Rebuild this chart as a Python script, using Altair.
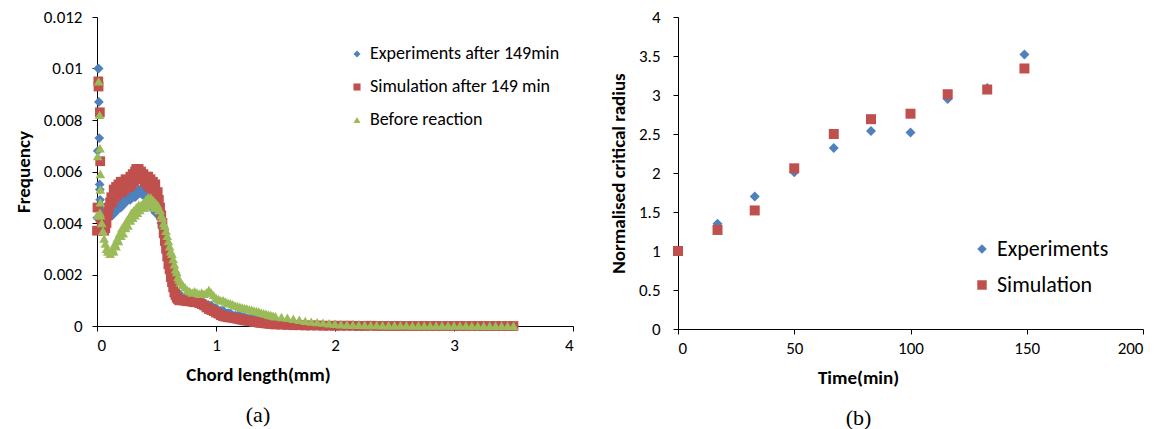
import altair as alt
import pandas as pd

FONT = "Carlito, Lato, sans-serif"
SERIF = "Liberation Serif, Times New Roman, serif"

# ---------------- panel (a): chord length distribution ----------------
series_a = ["Experiments after 149min", "Simulation after 149 min", "Before reaction"]
colors_a = ["#4F81BD", "#C0504D", "#9BBB59"]
shapes_a = ["diamond", "square", "triangle-up"]

# first few (smallest) chord-length bins
exp_spike_x = [0.002, 0.006, 0.010, 0.014, 0.016, 0.019, 0.022, 0.024, 0.026]
exp_spike_y = [0.0042, 0.0068, 0.0100, 0.0100, 0.0087, 0.0073, 0.0055, 0.0053, 0.0049]
sim_spike_x = [0.0, 0.004, 0.011, 0.013, 0.024, 0.027]
sim_spike_y = [0.0037, 0.0046, 0.0095, 0.0093, 0.0083, 0.0064]
bef_spike_x = [0.014, 0.022, 0.025, 0.006, 0.028, 0.028, 0.028, 0.025, 0.004]
bef_spike_y = [0.0095, 0.0082, 0.0069, 0.0066, 0.0059, 0.0053, 0.0048, 0.0044, 0.0043]

chord_a = [0.03, 0.04, 0.05, 0.06, 0.07, 0.08, 0.09, 0.10, 0.11, 0.12,
           0.13, 0.14, 0.15, 0.16, 0.17, 0.18, 0.19, 0.20, 0.21, 0.22,
           0.23, 0.24, 0.25, 0.26, 0.27, 0.28, 0.29, 0.30, 0.31, 0.32,
           0.33, 0.34, 0.35, 0.36, 0.37, 0.38, 0.39, 0.40, 0.41, 0.42,
           0.43, 0.44, 0.45, 0.46, 0.47, 0.48, 0.49, 0.50, 0.51, 0.52,
           0.53, 0.54, 0.55, 0.56, 0.57, 0.58, 0.59, 0.60, 0.61, 0.62,
           0.63, 0.64, 0.65, 0.66, 0.67, 0.68, 0.69, 0.70]
chord_b = [0.72, 0.74, 0.76, 0.78, 0.80, 0.82, 0.84, 0.86, 0.88, 0.90,
           0.92, 0.94, 0.96, 0.98, 1.00, 1.02, 1.04, 1.06, 1.08, 1.10,
           1.12, 1.14, 1.16, 1.18, 1.20, 1.22, 1.24, 1.26, 1.28, 1.30,
           1.32, 1.34, 1.36, 1.38, 1.40, 1.42, 1.44, 1.46, 1.48, 1.50]
chord_c = [1.55, 1.60, 1.65, 1.70, 1.75, 1.80, 1.85, 1.90, 1.95, 2.00,
           2.05, 2.10, 2.15, 2.20, 2.25, 2.30, 2.35, 2.40, 2.45, 2.50,
           2.55, 2.60, 2.65, 2.70, 2.75, 2.80, 2.85, 2.90, 2.95, 3.00,
           3.05, 3.10, 3.15, 3.20, 3.25, 3.30, 3.35, 3.40, 3.45, 3.50]

exp_a = [0.0047, 0.0045, 0.0044, 0.0043, 0.0042, 0.0041, 0.0042, 0.0042, 0.0043, 0.0044,
         0.0043, 0.0045, 0.0044, 0.0046, 0.0045, 0.0046, 0.0047, 0.0046, 0.0048, 0.0047,
         0.0049, 0.0048, 0.0050, 0.0049, 0.0050, 0.0049, 0.0051, 0.0050, 0.0051, 0.0050,
         0.0052, 0.0051, 0.0053, 0.0052, 0.0053, 0.0051, 0.0052, 0.0051, 0.0050, 0.0051,
         0.0049, 0.0048, 0.0047, 0.0046, 0.0047, 0.0045, 0.0044, 0.0045, 0.0044, 0.0043,
         0.0042, 0.0040, 0.0038, 0.0036, 0.0033, 0.0031, 0.0028, 0.0026, 0.0023, 0.0021,
         0.0019, 0.0017, 0.0016, 0.0014, 0.0013, 0.0013, 0.0012, 0.0012]
exp_b = [0.0011, 0.0011, 0.0011, 0.0010, 0.0010, 0.0010, 0.0010, 0.0009, 0.0009, 0.0009,
         0.0008, 0.0008, 0.0008, 0.0007, 0.0007, 0.0006, 0.0006, 0.0006, 0.0005, 0.0005,
         0.0005, 0.0004, 0.0004, 0.0004, 0.0004, 0.00035, 0.00035, 0.0003, 0.0003, 0.0003,
         0.00027, 0.00025, 0.00023, 0.0002, 0.0002, 0.00018, 0.00016, 0.00015, 0.00013, 0.00012]
exp_c = [0.0001, 0.00009, 0.00008, 0.00007, 0.00006, 0.00006, 0.00005, 0.00005, 0.00004, 0.00004,
         0.00003, 0.00003, 0.00003, 0.00003, 0.00002, 0.00002, 0.00002, 0.00002, 0.00002, 0.00002,
         0.00002, 0.00001, 0.00001, 0.00001, 0.00001, 0.00001, 0.00001, 0.00001, 0.00001, 0.00001,
         0.00001, 0.00001, 0.00001, 0.00001, 0.0, 0.0, 0.0, 0.0, 0.0, 0.0]

sim_a = [0.0042, 0.0040, 0.0038, 0.0037, 0.0038, 0.0040, 0.0043, 0.0046, 0.0048, 0.0050,
         0.0048, 0.0053, 0.0050, 0.0054, 0.0051, 0.0055, 0.0052, 0.0056, 0.0052, 0.0056,
         0.0053, 0.0057, 0.0054, 0.0056, 0.0054, 0.0058, 0.0055, 0.0059, 0.0056, 0.0060,
         0.0061, 0.0057, 0.0061, 0.0058, 0.0060, 0.0057, 0.0059, 0.0056, 0.0058, 0.0055,
         0.0058, 0.0054, 0.0057, 0.0053, 0.0056, 0.0052, 0.0055, 0.0051, 0.0052, 0.0049,
         0.0046, 0.0043, 0.0040, 0.0036, 0.0033, 0.0030, 0.0027, 0.0024, 0.0022, 0.0019,
         0.0017, 0.0015, 0.0013, 0.0012, 0.0011, 0.00105, 0.0010, 0.0010]
sim_b = [0.0010, 0.00098, 0.00096, 0.00097, 0.00094, 0.00092, 0.00093, 0.00089, 0.00085, 0.00080,
         0.00072, 0.00066, 0.00062, 0.00058, 0.00052, 0.00048, 0.00042, 0.00038, 0.00036, 0.00034,
         0.00033, 0.00032, 0.00030, 0.00028, 0.00026, 0.00024, 0.00022, 0.00021, 0.00020, 0.00018,
         0.00016, 0.00015, 0.00013, 0.00012, 0.00011, 0.00010, 0.00009, 0.00008, 0.00007, 0.00006]
sim_c = [0.00005, 0.00004, 0.00003, 0.00003, 0.00002, 0.00002, 0.00002, 0.00001, 0.00001, 0.00001,
         0.00001, 0.00001, 0.00001, 0.0, 0.0, 0.00001, 0.0, 0.0, 0.0, 0.0,
         0.0, 0.0, 0.0, 0.0, 0.0, 0.0, 0.0, 0.0, 0.0, 0.0,
         0.0, 0.0, 0.0, 0.0, 0.0, 0.0, 0.0, 0.0, 0.0, 0.0]

bef_a = [0.0043, 0.0040, 0.0037, 0.0034, 0.0032, 0.0030, 0.0029, 0.0029, 0.0028, 0.0029,
         0.0030, 0.0029, 0.0032, 0.0031, 0.0034, 0.0033, 0.0036, 0.0035, 0.0038, 0.0036,
         0.0039, 0.0038, 0.0041, 0.0039, 0.0042, 0.0041, 0.0044, 0.0042, 0.0045, 0.0043,
         0.0046, 0.0044, 0.0047, 0.0045, 0.0047, 0.0046, 0.0048, 0.0046, 0.0049, 0.0047,
         0.0050, 0.0048, 0.0050, 0.0047, 0.0049, 0.0046, 0.0048, 0.0046, 0.0047, 0.0045,
         0.0045, 0.0043, 0.0042, 0.0040, 0.0039, 0.0037, 0.0035, 0.0033, 0.0031, 0.0029,
         0.0028, 0.0026, 0.0024, 0.0022, 0.0021, 0.0019, 0.0018, 0.0017]
bef_b = [0.0016, 0.0015, 0.0014, 0.00135, 0.0013, 0.00135, 0.0013, 0.00125, 0.0013, 0.00125,
         0.0013, 0.0014, 0.0013, 0.0012, 0.0011, 0.00105, 0.0010, 0.0010, 0.00095, 0.0009,
         0.00088, 0.00085, 0.0008, 0.00078, 0.00075, 0.00072, 0.0007, 0.00068, 0.00065, 0.00063,
         0.0006, 0.00058, 0.00056, 0.00052, 0.0005, 0.00048, 0.00045, 0.00043, 0.0004, 0.00038]
bef_c = [0.00035, 0.00032, 0.00028, 0.00024, 0.0002, 0.00017, 0.00015, 0.00013, 0.00011, 0.00009,
         0.00007, 0.00006, 0.00005, 0.00005, 0.00004, 0.00004, 0.00004, 0.00003, 0.00003, 0.00003,
         0.00003, 0.00003, 0.00002, 0.00002, 0.00002, 0.00002, 0.00002, 0.00002, 0.00002, 0.00002,
         0.00002, 0.00002, 0.00001, 0.00001, 0.00001, 0.00001, 0.00001, 0.00001, 0.00001, 0.00001]

# ---------------- panel (b): normalised critical radius ----------------
series_b = ["Experiments", "Simulation"]
colors_b = ["#4F81BD", "#C0504D"]
shapes_b = ["diamond", "square"]
time_min = [0, 17, 33, 50, 67, 83, 100, 116, 133, 149]
exp_radius = [1.00, 1.35, 1.70, 2.01, 2.32, 2.54, 2.52, 2.95, 3.09, 3.52]
sim_radius = [1.00, 1.27, 1.52, 2.06, 2.50, 2.69, 2.76, 3.01, 3.07, 3.34]

# ---------------- tables ----------------
chord = chord_a + chord_b + chord_c
rows_a = []
for name, sx, sy, curve in [
    (series_a[0], exp_spike_x, exp_spike_y, exp_a + exp_b + exp_c),
    (series_a[1], sim_spike_x, sim_spike_y, sim_a + sim_b + sim_c),
    (series_a[2], bef_spike_x, bef_spike_y, bef_a + bef_b + bef_c),
]:
    for x, y in zip(sx + chord, sy + curve):
        rows_a.append({"series": name, "chord": x, "freq": y})
df_a = pd.DataFrame(rows_a)

rows_b = []
for name, vals in [(series_b[0], exp_radius), (series_b[1], sim_radius)]:
    for t, v in zip(time_min, vals):
        rows_b.append({"method": name, "time": t, "radius": v})
df_b = pd.DataFrame(rows_b)

axis_common = dict(grid=False, domainColor="black", tickColor="black", labelColor="black",
                   titleColor="black", tickSize=5, domainWidth=1, tickWidth=1,
                   labelFont=FONT, titleFont=FONT, labelFontSize=17, titleFontSize=19,
                   titleFontWeight="bold")

legend_a = alt.Legend(title=None, orient="none", legendX=251, legendY=28, direction="vertical",
                      labelFontSize=18, labelFont=FONT, labelColor="black", symbolSize=50,
                      symbolStrokeWidth=0, rowPadding=15, padding=0, labelOffset=4, labelLimit=400)

left = alt.Chart(df_a).mark_point(filled=True, opacity=1, size=95).encode(
    x=alt.X("chord:Q", scale=alt.Scale(domain=[0, 4], nice=False, zero=False),
            axis=alt.Axis(values=[0, 1, 2, 3, 4], format="d", title="Chord length(mm)",
                          titleX=161, titleY=48, titleBaseline="middle", labelPadding=6,
                          **axis_common)),
    y=alt.Y("freq:Q", scale=alt.Scale(domain=[0, 0.012], nice=False),
            axis=alt.Axis(values=[0, 0.002, 0.004, 0.006, 0.008, 0.01, 0.012], format=".3~f",
                          title="Frequency", titlePadding=10, labelPadding=10, **axis_common)),
    color=alt.Color("series:N", scale=alt.Scale(domain=series_a, range=colors_a), legend=legend_a),
    shape=alt.Shape("series:N", scale=alt.Scale(domain=series_a, range=shapes_a), legend=legend_a),
).properties(
    width=476, height=309,
    title=alt.TitleParams("(a)", orient="bottom", anchor="middle", frame="group", dx=-77, offset=21,
                          font=SERIF, fontSize=22, fontWeight="normal", color="black"),
)

legend_b = alt.Legend(title=None, orient="none", legendX=293, legendY=221, direction="vertical",
                      labelFontSize=22, labelFont=FONT, labelColor="black", symbolSize=90,
                      symbolStrokeWidth=0, rowPadding=14, padding=0, labelOffset=4, labelLimit=400)

right = alt.Chart(df_b).mark_point(filled=True, opacity=1, size=100).encode(
    x=alt.X("time:Q", scale=alt.Scale(domain=[0, 200], nice=False),
            axis=alt.Axis(values=[0, 50, 100, 150, 200], format="d", title="Time(min)",
                          titleX=180, titleY=48, titleBaseline="middle", labelPadding=6,
                          **axis_common)),
    y=alt.Y("radius:Q", scale=alt.Scale(domain=[0, 4], nice=False),
            axis=alt.Axis(values=[0, 0.5, 1, 1.5, 2, 2.5, 3, 3.5, 4], format="~g",
                          title="Normalised critical radius", titlePadding=10, labelPadding=13,
                          **axis_common)),
    color=alt.Color("method:N", scale=alt.Scale(domain=series_b, range=colors_b), legend=legend_b),
    shape=alt.Shape("method:N", scale=alt.Scale(domain=series_b, range=shapes_b), legend=legend_b),
).properties(
    width=465, height=312,
    title=alt.TitleParams("(b)", orient="bottom", anchor="middle", frame="group", dx=-52, offset=21,
                          font=SERIF, fontSize=22, fontWeight="normal", color="black"),
)

chart = alt.hconcat(left, right, spacing=35).resolve_scale(
    color="independent", shape="independent"
).resolve_legend(color="independent", shape="independent").properties(
    padding={"left": 6, "top": 0, "right": 0, "bottom": 0},
    background="white",
).configure_view(stroke=None)

chart.save("out.html", embed_options={"renderer": "svg", "actions": False})
